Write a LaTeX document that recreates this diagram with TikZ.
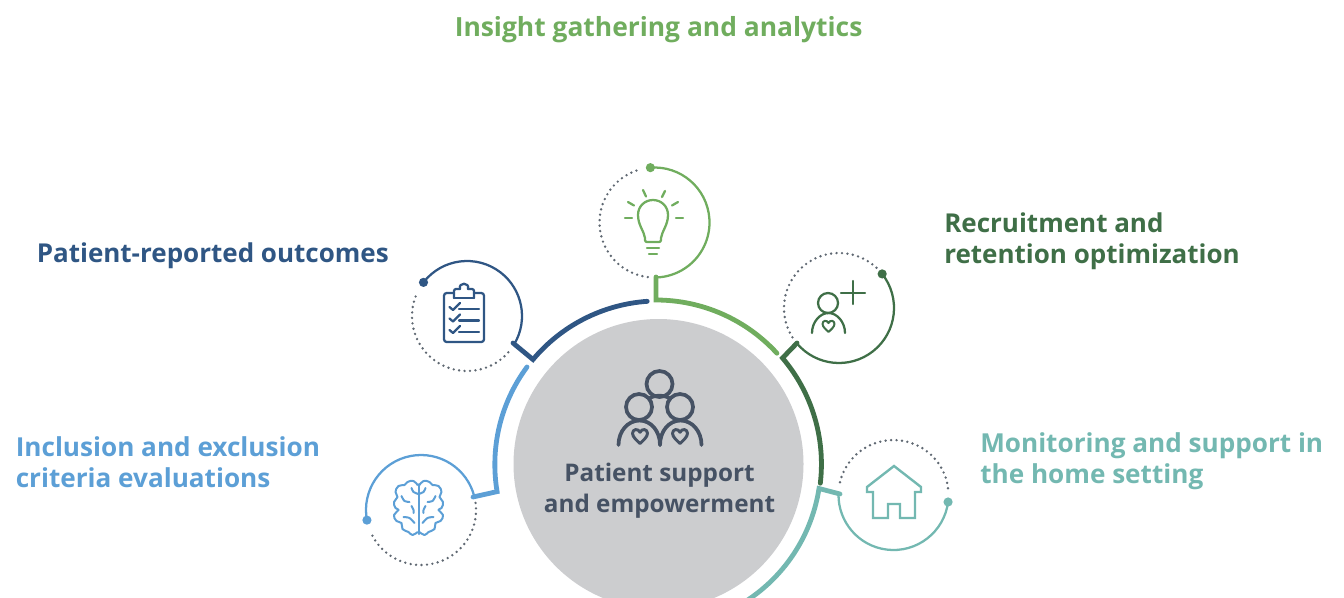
\documentclass[tikz,border=0pt]{standalone}
\usepackage{fontspec}
\setmainfont{Open Sans}
\definecolor{cgreen}{HTML}{70AD5E}
\definecolor{cnavy}{HTML}{2F5684}
\definecolor{cdark}{HTML}{3F6F47}
\definecolor{cblue}{HTML}{5C9FD6}
\definecolor{cteal}{HTML}{73B8B1}
\definecolor{cslate}{HTML}{465264}
\definecolor{cgrey}{HTML}{CCCDCF}
\definecolor{cdots}{HTML}{5F6872}
\tikzset{
  ring/.style={line width=3.6pt,line cap=round,line join=miter},
  small/.style={line width=1.7pt},
  dotline/.style={cdots,line width=2pt,line cap=round,dash pattern=on 0pt off 4.1pt},
  icon/.style={line width=1.7pt,line cap=round,line join=round},
  label/.style={font=\fontsize{19.6}{23.3}\selectfont\bfseries,anchor=base west,inner sep=0pt,align=left},
}
% \hrt{colour}{x}{y}{half width}{line width}
\newcommand{\hrt}[5]{%
  \draw[#1,line width=#5,line join=round,shift={(#2,#3)},scale=#4]
    (0,1) .. controls (-0.35,0.65) and (-1,0.15) .. (-1,-0.35)
    .. controls (-1,-0.95) and (-0.25,-1.05) .. (0,-0.5)
    .. controls (0.25,-1.05) and (1,-0.95) .. (1,-0.35)
    .. controls (1,0.15) and (0.35,0.65) .. (0,1) -- cycle;}
% \unit{colour}{cx}{cy}{dot angle}{solid end}{dot start}{dot end}
\newcommand{\unit}[7]{%
  \draw[#1,small] (#2,#3)+(#4:55) arc[start angle=#4,end angle=#5,radius=55];
  \draw[dotline] (#2,#3)+(#6:55) arc[start angle=#6,end angle=#7,radius=55];
  \fill[#1] (#2,#3)+(#4:55) circle[radius=4.6];}
\begin{document}
\begin{tikzpicture}[x=0.75pt,y=-0.75pt]
\useasboundingbox (0,0) rectangle (1344,597);
\begin{scope}
\clip (0,0) rectangle (1344,597);
\fill[cgrey] (658.5,464) circle[radius=145];
% ring arcs and stems
\draw[cgreen,ring] (656,277) -- (656,300) arc[start angle=-90,end angle=-42.5,radius=164];
\draw[cnavy,ring] (513,343) -- (533,359.5) arc[start angle=220,end angle=266,radius=164];
\draw[cblue,ring] (527,367) arc[start angle=216.5,end angle=170.5,radius=164] -- (473,497);
\draw[cdark,ring] (797,343) -- (782.5,358) arc[start angle=-40.3,end angle=6.7,radius=164];
\draw[cteal,ring] (840,494) -- (819,488.5) arc[start angle=8.8,end angle=65,radius=164];
\end{scope}
% satellites
\unit{cgreen}{654.5}{222.5}{-94.3}{88.4}{97}{254.6}
\unit{cdark}{839}{308}{-38.3}{140}{147.8}{313.5}
\unit{cnavy}{467}{316}{217.7}{390.4}{41.3}{204}
\unit{cblue}{421}{510}{169.4}{346}{-7.4}{154.9}
\unit{cteal}{893.5}{495}{7.3}{181}{193.4}{356}
% bulb
\begin{scope}[cgreen,icon]
\draw (645,240) -- (645,238) .. controls (644,231) and (638,225) .. (638,215)
  .. controls (638,206) and (645,200) .. (653,200)
  .. controls (661,200) and (668,206) .. (668,215)
  .. controls (668,225) and (662,231) .. (661,238) -- (661,240)
  .. controls (661,241.5) and (660,242) .. (659,242) -- (647,242)
  .. controls (646,242) and (645,241.5) .. (645,240);
\draw (647,248) -- (659,248);
\draw (649,254) -- (657,254);
\draw (625,218) -- (632,218);
\draw (628,202) -- (634,205.5);
\draw (643,190) -- (646,196.5);
\draw (665,191) -- (662,197);
\draw (678,202) -- (672,205.5);
\draw (676,218) -- (683,218);
\end{scope}
% person plus
\begin{scope}[cdark,icon]
\draw (828,303) circle[radius=10];
\draw (812,333) .. controls (812,322) and (820,313) .. (828.5,313) .. controls (837,313) and (845,322) .. (845,333);
\draw (841,293) -- (865,293);
\draw (853,281) -- (853,304);
\end{scope}
\hrt{cdark}{828.5}{326}{6}{1.5pt}
% clipboard
\begin{scope}[cnavy,icon]
\draw[rounded corners=2pt] (454,293) -- (444,293) -- (444,342) -- (484,342) -- (484,293) -- (474,293);
\draw[rounded corners=1.5pt] (454,298) -- (454,289) -- (460,289);
\draw[rounded corners=1.5pt] (474,298) -- (474,289) -- (468,289);
\draw (454,298) -- (474,298);
\draw (460,289) .. controls (458,282) and (470,282) .. (468,289);
\foreach \yy in {309,320.5,332}{
  \draw (449.5,\yy-2) -- (453,\yy+1) -- (460,\yy-6);
  \draw (459,\yy) -- (479,\yy);
}
\end{scope}
% brain
\begin{scope}[cblue,line width=1.5pt,line cap=round,line join=round,shift={(418.5,508)}]
\draw (0,-24) -- (0,26);
\foreach \mm in {1,-1}{
\begin{scope}[xscale=\mm]
\draw plot[smooth,tension=.8] coordinates {(-1,-23) (-5,-27) (-11,-26) (-14,-23) (-20,-22) (-23,-16) (-21,-11) (-24.5,-6) (-23,0) (-20,2) (-24.5,7) (-22,13) (-17,15) (-16,21) (-10,24) (-6,27) (-1,24)};
\draw plot[smooth] coordinates {(-17,-12) (-14,-7) (-9,-6)};
\draw plot[smooth] coordinates {(-7,-2) (-5,2) (-5,5)};
\draw plot[smooth] coordinates {(0,-14) (-5,-16) (-7,-20)};
\draw plot[smooth] coordinates {(-15,9) (-9,10) (-4,15)};
\end{scope}}
\end{scope}
% house
\draw[cteal,line width=1.8pt,line join=miter] (894,466) -- (921,487) -- (921,492) -- (915,492) -- (915,518) -- (900,518) -- (900,504) -- (888,504) -- (888,518) -- (873,518) -- (873,492) -- (867,492) -- (867,487) -- cycle;
% people
\begin{scope}[cslate,line width=2.8pt,line cap=round,line join=round]
\draw (659.5,384) circle[radius=13];
\draw (639,407) circle[radius=13];
\draw (680,407) circle[radius=13];
\draw (650,398) .. controls (654,395) and (665,395) .. (669,398);
\draw (618.5,445) .. controls (618.5,431) and (628,420.5) .. (639.5,420.5) .. controls (651,420.5) and (660,431) .. (660,445);
\draw (660,445) .. controls (660,431) and (669,420.5) .. (680.5,420.5) .. controls (692,420.5) and (701.5,431) .. (701.5,445);
\end{scope}
\hrt{cslate}{640}{436}{7.5}{2.2pt}
\hrt{cslate}{680}{436}{7.5}{2.2pt}
% texts
\node[label,text=cgreen,font=\fontsize{19.8}{23.3}\selectfont\bfseries] (t1) at (454.5,36) {Insight gathering and analytics};
\node[label,text=cnavy,font=\fontsize{19.5}{23.3}\selectfont\bfseries] (t2) at (36.5,262) {Patient-reported outcomes};
\node[label,text=cdark,font=\fontsize{19.5}{23.3}\selectfont\bfseries] (t3) at (944,232) {Recruitment and};
\node[label,text=cdark,font=\fontsize{19.5}{23.3}\selectfont\bfseries] (t3b) at (944,263) {retention optimization};
\node[label,text=cblue] (t4) at (15.5,456) {Inclusion and exclusion};
\node[label,text=cblue] (t4b) at (15.5,487) {criteria evaluations};
\node[label,text=cteal] (t5) at (980,452) {Monitoring and support in};
\node[label,text=cteal] (t5b) at (980,483) {the home setting};
\node[label,text=cslate,font=\fontsize{18.2}{23}\selectfont\bfseries,anchor=base] (t6) at (659.5,481) {Patient support};
\node[label,text=cslate,font=\fontsize{18.2}{23}\selectfont\bfseries,anchor=base] (t6b) at (659.5,512) {and empowerment};
\end{tikzpicture}
\end{document}
